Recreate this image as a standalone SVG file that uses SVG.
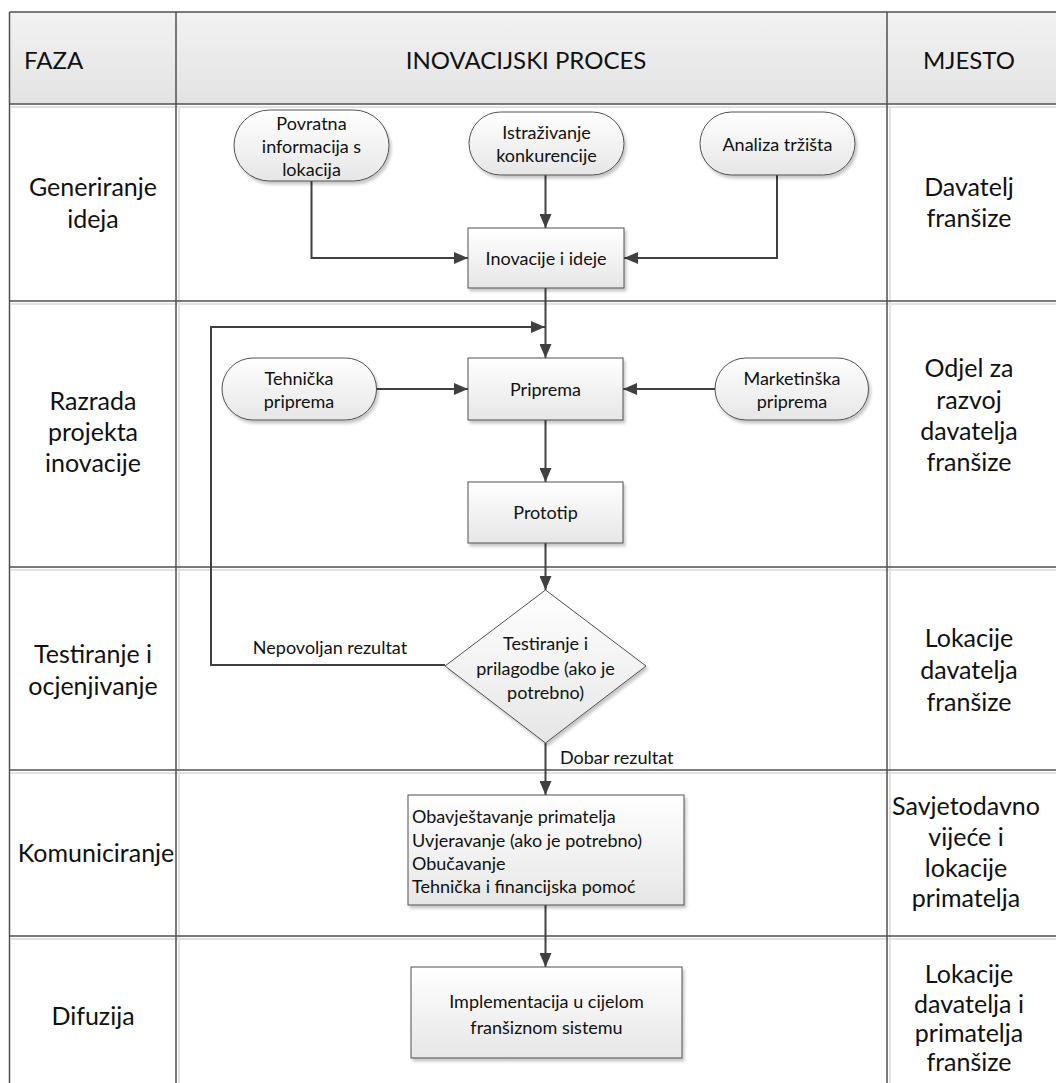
<svg xmlns="http://www.w3.org/2000/svg" width="1056" height="1083" viewBox="0 0 1056 1083">
<defs>
<linearGradient id="hdr" x1="0" y1="0" x2="0" y2="1"><stop offset="0" stop-color="#f2f2f2"/><stop offset="1" stop-color="#e3e3e3"/></linearGradient>
<linearGradient id="nodeg" x1="0" y1="0" x2="0" y2="1"><stop offset="0" stop-color="#ffffff"/><stop offset="1" stop-color="#e6e6e6"/></linearGradient>
<filter id="sh" x="-10%" y="-10%" width="130%" height="130%"><feDropShadow dx="2" dy="3" stdDeviation="1.5" flood-color="#000" flood-opacity="0.22"/></filter>
<marker id="arr" viewBox="0 0 14 12" markerWidth="14" markerHeight="12" refX="14" refY="6" orient="auto" markerUnits="userSpaceOnUse"><path d="M0,0 L14,6 L0,12 z" fill="#404040"/></marker>
<style>
.grid{stroke:#505050;stroke-width:1.5;fill:none}
.gshadow{stroke:#e2e2e2;stroke-width:2;fill:none}
.node{fill:url(#nodeg);stroke:#505050;stroke-width:1;filter:url(#sh)}
.conn{stroke:#404040;stroke-width:2;fill:none}
.t{font-family:Lato,"Liberation Sans",sans-serif;fill:#111;text-anchor:middle;dominant-baseline:central}
.hd{font-size:24px}
.ph{font-size:25px}
.nt{font-size:18px}
.lt{text-anchor:start}
</style>
</defs>
<rect width="1056" height="1083" fill="#ffffff"/>
<g id="table">
<rect x="9.5" y="12" width="1047" height="92" fill="url(#hdr)"/>
<path class="gshadow" d="M11,107 H1056 M11,304 H1056 M11,570 H1056 M11,773 H1056 M11,939 H1056 M179,106 V1083 M890,106 V1083"/>
<path class="grid" d="M9.5,12 H1056 M9.5,104 H1056 M9.5,301 H1056 M9.5,567 H1056 M9.5,770 H1056 M9.5,936 H1056 M9.5,12 V1083 M176,12 V1083 M887,12 V1083"/>
<text class="t hd lt" x="24" y="59">FAZA</text>
<text class="t hd" x="526" y="59">INOVACIJSKI PROCES</text>
<text class="t hd" x="969" y="59">MJESTO</text>
<text class="t ph" x="93" y="186">Generiranje</text>
<text class="t ph" x="93" y="218">ideja</text>
<text class="t ph" x="93" y="400">Razrada</text>
<text class="t ph" x="93" y="431">projekta</text>
<text class="t ph" x="93" y="462">inovacije</text>
<text class="t ph" x="93" y="653">Testiranje i</text>
<text class="t ph" x="93" y="685">ocjenjivanje</text>
<text class="t ph" x="96" y="852">Komuniciranje</text>
<text class="t ph" x="93" y="1015">Difuzija</text>
<text class="t ph" x="969" y="186">Davatelj</text>
<text class="t ph" x="969" y="217">franšize</text>
<text class="t ph" x="969" y="367">Odjel za</text>
<text class="t ph" x="969" y="399">razvoj</text>
<text class="t ph" x="969" y="430">davatelja</text>
<text class="t ph" x="969" y="461">franšize</text>
<text class="t ph" x="969" y="637">Lokacije</text>
<text class="t ph" x="969" y="669">davatelja</text>
<text class="t ph" x="969" y="701">franšize</text>
<text class="t ph" x="966" y="805">Savjetodavno</text>
<text class="t ph" x="966" y="836">vijeće i</text>
<text class="t ph" x="966" y="867">lokacije</text>
<text class="t ph" x="966" y="897">primatelja</text>
<text class="t ph" x="969" y="973">Lokacije</text>
<text class="t ph" x="969" y="1003">davatelja i</text>
<text class="t ph" x="969" y="1032">primatelja</text>
<text class="t ph" x="969" y="1061">franšize</text>
</g>
<g id="connectors">
<path class="conn" d="M311.5,181 V258 H468" marker-end="url(#arr)"/>
<path class="conn" d="M545.5,175 V228" marker-end="url(#arr)"/>
<path class="conn" d="M777,175 V258 H624" marker-end="url(#arr)"/>
<path class="conn" d="M545.5,288 V358" marker-end="url(#arr)"/>
<path class="conn" d="M445,665 H211 V327 H545" marker-end="url(#arr)"/>
<path class="conn" d="M376.5,389 H468" marker-end="url(#arr)"/>
<path class="conn" d="M715,389 H623" marker-end="url(#arr)"/>
<path class="conn" d="M545.5,420 V482" marker-end="url(#arr)"/>
<path class="conn" d="M545.5,543 V590" marker-end="url(#arr)"/>
<path class="conn" d="M545.5,743 V795" marker-end="url(#arr)"/>
<path class="conn" d="M545.5,905 V967" marker-end="url(#arr)"/>
<text class="t nt" x="330" y="647">Nepovoljan rezultat</text>
<text class="t nt lt" x="560" y="757">Dobar rezultat</text>
</g>
<g id="n-povratna">
<rect class="node" x="234" y="110" width="155" height="71" rx="35.5"/>
<text class="t nt" x="311.5" y="123">Povratna</text>
<text class="t nt" x="311.5" y="146">informacija s</text>
<text class="t nt" x="311.5" y="169">lokacija</text>
</g>
<g id="n-istrazivanje">
<rect class="node" x="469" y="112" width="155" height="63" rx="31.5"/>
<text class="t nt" x="546.5" y="132">Istraživanje</text>
<text class="t nt" x="546.5" y="155">konkurencije</text>
</g>
<g id="n-analiza">
<rect class="node" x="700" y="112" width="155" height="63" rx="31.5"/>
<text class="t nt" x="777.5" y="144">Analiza tržišta</text>
</g>
<g id="n-inovacije">
<rect class="node" x="468" y="228" width="156" height="60"/>
<text class="t nt" x="546" y="258">Inovacije i ideje</text>
</g>
<g id="n-tehnicka">
<rect class="node" x="222" y="358" width="154.5" height="62" rx="31"/>
<text class="t nt" x="299" y="378">Tehnička</text>
<text class="t nt" x="299" y="401">priprema</text>
</g>
<g id="n-priprema">
<rect class="node" x="468" y="358" width="155" height="62"/>
<text class="t nt" x="545.5" y="389">Priprema</text>
</g>
<g id="n-marketinska">
<rect class="node" x="715" y="358" width="153.5" height="62" rx="31"/>
<text class="t nt" x="792" y="378">Marketinška</text>
<text class="t nt" x="792" y="401">priprema</text>
</g>
<g id="n-prototip">
<rect class="node" x="468" y="482" width="155" height="61"/>
<text class="t nt" x="545.5" y="512">Prototip</text>
</g>
<g id="n-testiranje">
<polygon class="node" points="545.5,590 646,666 545.5,743 445,666"/>
<text class="t nt" x="545.5" y="643">Testiranje i</text>
<text class="t nt" x="545.5" y="668">prilagodbe (ako je</text>
<text class="t nt" x="545.5" y="692">potrebno)</text>
</g>
<g id="n-komuniciranje">
<rect class="node" x="408" y="795" width="276" height="110"/>
<text class="t nt lt" x="412" y="816">Obavještavanje primatelja</text>
<text class="t nt lt" x="412" y="840">Uvjeravanje (ako je potrebno)</text>
<text class="t nt lt" x="412" y="863">Obučavanje</text>
<text class="t nt lt" x="412" y="886">Tehnička i financijska pomoć</text>
</g>
<g id="n-implementacija">
<rect class="node" x="411" y="967" width="271" height="91"/>
<text class="t nt" x="546.5" y="1001">Implementacija u cijelom</text>
<text class="t nt" x="546.5" y="1027">franšiznom sistemu</text>
</g>
</svg>
